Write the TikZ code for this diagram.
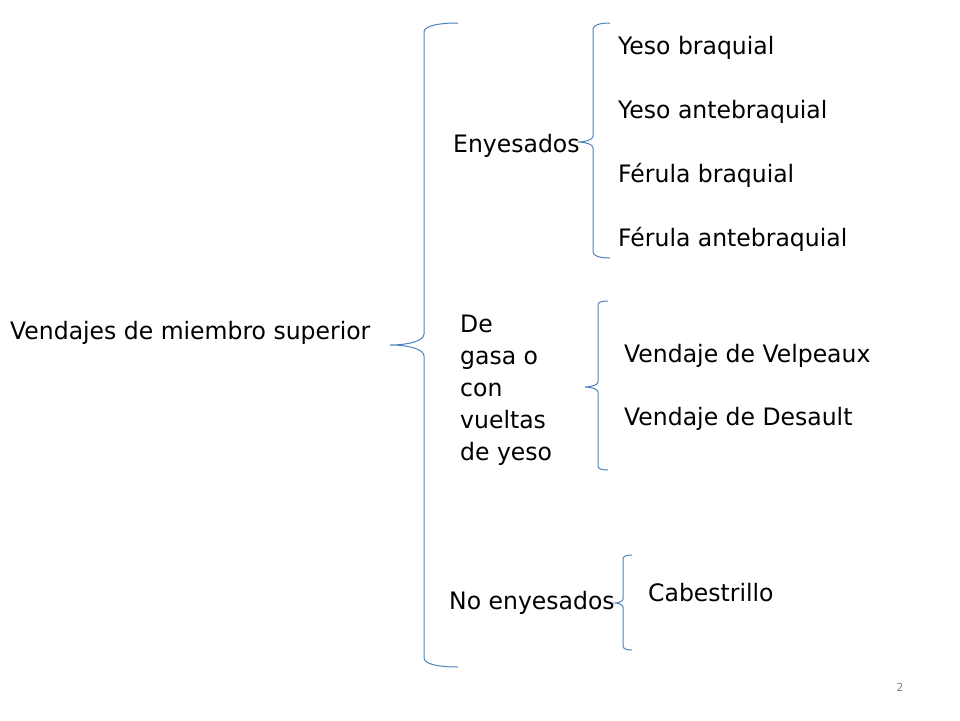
\documentclass[tikz,border=0pt]{standalone}
\usepackage{fontspec}
\setmainfont{DejaVu Sans}[FakeStretch=0.98]
\usepackage{xcolor}
\usepackage{tikz}
\definecolor{azul}{HTML}{4F81BD}

\begin{document}
\begin{tikzpicture}[x=1pt,y=-1pt,
        texto/.style={anchor=base west,inner sep=0pt,font=\fontsize{24}{32}\selectfont},
        llave/.style={draw=azul,line width=1pt}]
            \useasboundingbox (0,0) rectangle (960,720);
            %\draw[help lines] (0,0) grid[step=40] (960,720);
            \node[texto] (raiz) at (10,339) {Vendajes de miembro superior};
            \node[texto] (enyesados) at (453,152) {Enyesados};
            \node[texto,align=left] (gasa) at (460,460) {De\\gasa o\\con\\vueltas\\de yeso};
            \node[texto] (noenyesados) at (449,609) {No enyesados};
            \node[texto] (yb) at (618,54) {Yeso braquial};
            \node[texto] (ya) at (618,118) {Yeso antebraquial};
            \node[texto] (fb) at (618,182) {Férula braquial};
            \node[texto] (fa) at (618,246) {Férula antebraquial};
            \node[texto] (velpeaux) at (624,362) {Vendaje de Velpeaux};
            \node[texto] (desault) at (624,425) {Vendaje de Desault};
            \node[texto] (cabestrillo) at (648,601) {Cabestrillo};
            \node[anchor=base,inner sep=0pt,text=gray,font=\fontsize{11}{13}\selectfont] (pag) at (900,691) {2};
            % llaves
            \draw[llave] (458,23) .. controls (438,23) and (424,26) .. (424,32) -- (424,334) .. controls (424,341) and (408,345) .. (390,345) .. controls (408,345) and (424,349) .. (424,356) -- (424,658) .. controls (424,664) and (438,667) .. (458,667);
            \draw[llave] (610,23) .. controls (600,23) and (593,25) .. (593,29) -- (593,136) .. controls (593,140) and (585,142) .. (578,142) .. controls (585,142) and (593,144) .. (593,148) -- (593,252) .. controls (593,256) and (600,258) .. (610,258);
            \draw[llave] (608,301) .. controls (602,301) and (598,302) .. (598,305) -- (598,382) .. controls (598,385) and (591,387) .. (585,387) .. controls (591,387) and (598,389) .. (598,392) -- (598,466) .. controls (598,469) and (602,470) .. (608,470);
            \draw[llave] (632,555) .. controls (627,555) and (623,556) .. (623,559) -- (623,599) .. controls (623,601) and (619,603) .. (615,603) .. controls (619,603) and (623,605) .. (623,607) -- (623,646) .. controls (623,649) and (627,650) .. (632,650);
        \end{tikzpicture}
\end{document}
